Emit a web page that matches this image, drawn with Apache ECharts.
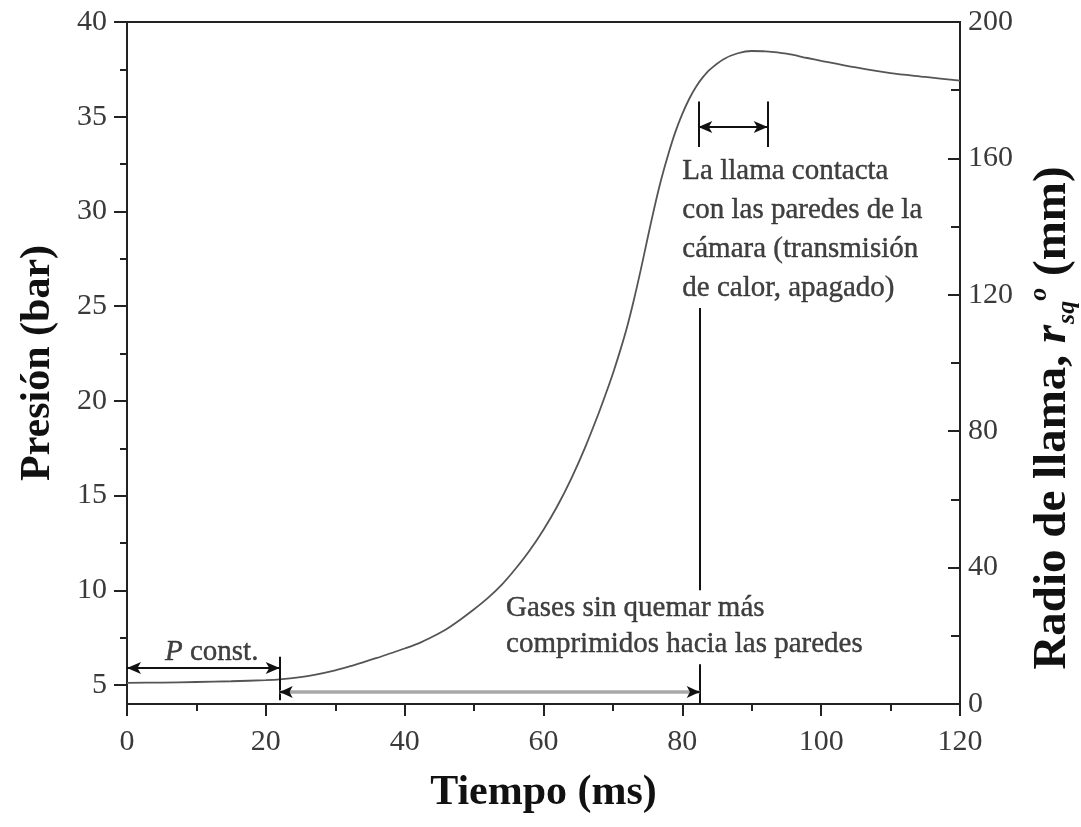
<!DOCTYPE html>
<html>
<head>
<meta charset="utf-8">
<script src="https://cdn.jsdelivr.net/npm/echarts@6/dist/echarts.min.js"></script>
<style>
  html, body { margin: 0; padding: 0; background: #fff; }
  #chart { width: 1081px; height: 827px; }
</style>
</head>
<body>
<div id="chart"></div>
<script>
// Presión en la cámara frente al tiempo
const tiempo = [0, 5, 10, 15, 20, 22, 25, 27, 30, 32, 34, 36, 38, 40, 42, 44, 46, 48, 50, 52,
  54, 56, 58, 60, 62, 64, 66, 68, 69, 70, 71, 72, 73, 74, 75, 76, 77, 78, 79, 80, 81, 82, 83, 84,
  86, 88, 90, 92, 95, 98, 100, 105, 110, 115, 120];
const presion = [5.12, 5.13, 5.16, 5.2, 5.26, 5.3, 5.42, 5.54, 5.78, 5.98, 6.2, 6.43, 6.68, 6.93,
  7.2, 7.55, 7.95, 8.45, 9.0, 9.6, 10.3, 11.15, 12.1, 13.2, 14.45, 15.9, 17.55, 19.4, 20.4, 21.45,
  22.6, 23.85, 25.3, 26.9, 28.6, 30.25, 31.75, 33.05, 34.2, 35.15, 35.95, 36.6, 37.1, 37.5,
  38.05, 38.35, 38.47, 38.45, 38.33, 38.1, 37.95, 37.6, 37.3, 37.1, 36.9];

// Marcas de los ejes
const ticksPresion = [5, 10, 15, 20, 25, 30, 35, 40];
const ticksPresionMenores = [7.5, 12.5, 17.5, 22.5, 27.5, 32.5, 37.5];

// Cotas de las anotaciones (tiempo, presión)
const flechasDobles = [
  [[0, 5.9], [22, 5.9]],
  [[82.3, 34.46], [92.3, 34.46]]
];
const flechaGris = [[22, 4.63], [82.5, 4.63]];
const puntasGris = [
  [[23.4, 4.63], [22, 4.63]],
  [[81.1, 4.63], [82.5, 4.63]]
];
const barras = [
  [[22, 4.2], [22, 6.5]],
  [[82.5, 4.0], [82.5, 6.1]],
  [[82.5, 10.0], [82.5, 24.9]],
  [[82.3, 33.4], [82.3, 35.8]],
  [[92.3, 33.4], [92.3, 35.8]]
];

// Textos de las anotaciones y su anclaje
const textoPconst = '{i|P} const.';
const anclaPconst = [12.2, 6.75];
const textoLlama = 'La llama contacta\ncon las paredes de la\ncámara (transmisión\nde calor, apagado)';
const anclaLlama = [80.0, 29.05];
const textoGases = 'Gases sin quemar más\ncomprimidos hacia las paredes';
const anclaGases = [54.6, 8.1];

const FONT = 'Liberation Serif';
const INK = '#111';
const AXIS = '#222';

// Segmento de cota con el símbolo de cada extremo
function seg(pair, s0, s1, size, style) {
  return [
    { coord: pair[0], symbol: s0, symbolSize: size, lineStyle: style },
    { coord: pair[1], symbol: s1, symbolSize: size }
  ];
}

const negro = { color: INK, width: 2, type: 'solid' };

const chart = echarts.init(document.getElementById('chart'));

chart.setOption({
  animation: false,
  backgroundColor: '#fff',
  grid: {
    left: 127, right: 121, top: 22, bottom: 123,
    outerBoundsMode: 'none',
    containLabel: false,
    show: true, borderColor: AXIS, borderWidth: 2, backgroundColor: 'transparent'
  },
  xAxis: {
    type: 'value', min: 0, max: 120, interval: 20,
    name: 'Tiempo (ms)', nameLocation: 'middle', nameGap: 68,
    nameTextStyle: { fontFamily: FONT, fontSize: 42, fontWeight: 'bold', color: '#111' },
    axisLine: { lineStyle: { color: AXIS, width: 2 } },
    axisTick: { length: 12, lineStyle: { color: AXIS, width: 2 } },
    minorTick: { show: true, splitNumber: 2, length: 7, lineStyle: { color: AXIS, width: 2 } },
    axisLabel: { fontFamily: FONT, fontSize: 30, color: '#3a3a3a', margin: 23 },
    splitLine: { show: false }
  },
  yAxis: [
    {
      type: 'value', min: 4, max: 40, position: 'left',
      name: 'Presión (bar)', nameLocation: 'middle', nameGap: 68,
      nameTextStyle: { fontFamily: FONT, fontSize: 42, fontWeight: 'bold', color: '#111' },
      axisLine: { show: true, lineStyle: { color: AXIS, width: 2 } },
      axisTick: { show: true, length: 13, customValues: ticksPresion, lineStyle: { color: AXIS, width: 2 } },
      axisLabel: { fontFamily: FONT, fontSize: 30, color: '#3a3a3a', margin: 20, customValues: ticksPresion },
      splitLine: { show: false }
    },
    {
      type: 'value', min: 0, max: 200, interval: 40, position: 'right',
      name: '{b|Radio de llama, }{r|r}{sub|sq}{sup|o}{e| (mm)}',
      nameLocation: 'middle', nameGap: 66,
      nameTextStyle: {
        rich: {
          b: { fontFamily: FONT, fontSize: 47, fontWeight: 'bold', color: '#111', lineHeight: 54 },
          r: { fontFamily: FONT, fontSize: 47, fontWeight: 'bold', fontStyle: 'italic', color: '#111', lineHeight: 54 },
          sub: { fontFamily: FONT, fontSize: 26, fontWeight: 'bold', fontStyle: 'italic', color: '#111', verticalAlign: 'bottom', lineHeight: 54, padding: [0, 0, 0, 1] },
          sup: { fontFamily: FONT, fontSize: 26, fontWeight: 'bold', fontStyle: 'italic', color: '#111', verticalAlign: 'top', lineHeight: 54 },
          e: { fontFamily: FONT, fontSize: 47, fontWeight: 'bold', color: '#111', lineHeight: 54, padding: [0, 110, 0, 0] }
        }
      },
      axisLine: { show: true, lineStyle: { color: AXIS, width: 2 } },
      axisTick: { show: true, inside: true, length: 12, lineStyle: { color: AXIS, width: 2 } },
      minorTick: { show: true, splitNumber: 2, length: 9, lineStyle: { color: AXIS, width: 2 } },
      axisLabel: { fontFamily: FONT, fontSize: 30, color: '#3a3a3a', margin: 8 },
      splitLine: { show: false }
    },
    {
      // marcas menores del eje de presión
      type: 'value', min: 4, max: 40, position: 'left',
      axisLine: { show: false },
      axisTick: { show: true, length: 7, customValues: ticksPresionMenores, lineStyle: { color: AXIS, width: 2 } },
      axisLabel: { show: false },
      splitLine: { show: false }
    }
  ],
  series: [
    {
      name: 'Presión',
      type: 'line',
      yAxisIndex: 0,
      data: tiempo.map((t, i) => [t, presion[i]]),
      smooth: 0.3,
      showSymbol: false,
      silent: true,
      lineStyle: { color: '#555', width: 1.8 },
      z: 3
    },
    {
      name: 'cotas',
      type: 'line',
      yAxisIndex: 0,
      data: [],
      silent: true,
      markLine: {
        silent: true,
        animation: false,
        symbol: ['none', 'none'],
        label: { show: false },
        emphasis: { disabled: true },
        data: [].concat(
          barras.map(p => seg(p, 'none', 'none', 0, negro)),
          [seg(flechaGris, 'none', 'none', 0, { color: '#a8a8a8', width: 3.5, type: 'solid' })],
          flechasDobles.map(p => seg(p, 'arrow', 'arrow', [9, 14], negro)),
          puntasGris.map(p => seg(p, 'none', 'arrow', [9, 13], negro))
        )
      },
      z: 4
    },
    {
      name: 'textos',
      type: 'scatter',
      yAxisIndex: 0,
      symbolSize: 0,
      silent: true,
      data: [
        { value: anclaPconst, label: { formatter: textoPconst, align: 'center' } },
        { value: anclaLlama, label: { formatter: textoLlama, align: 'left', lineHeight: 39 } },
        { value: anclaGases, label: { formatter: textoGases, align: 'left', lineHeight: 36 } }
      ],
      label: {
        show: true,
        position: 'inside',
        verticalAlign: 'middle',
        fontFamily: FONT,
        fontSize: 29,
        color: INK,
        textBorderColor: INK,
        textBorderWidth: 0.4,
        rich: {
          i: { fontFamily: FONT, fontSize: 29, fontStyle: 'italic', color: INK, textBorderColor: INK, textBorderWidth: 0.4 }
        }
      },
      z: 5
    }
  ]
});
</script>
</body>
</html>
